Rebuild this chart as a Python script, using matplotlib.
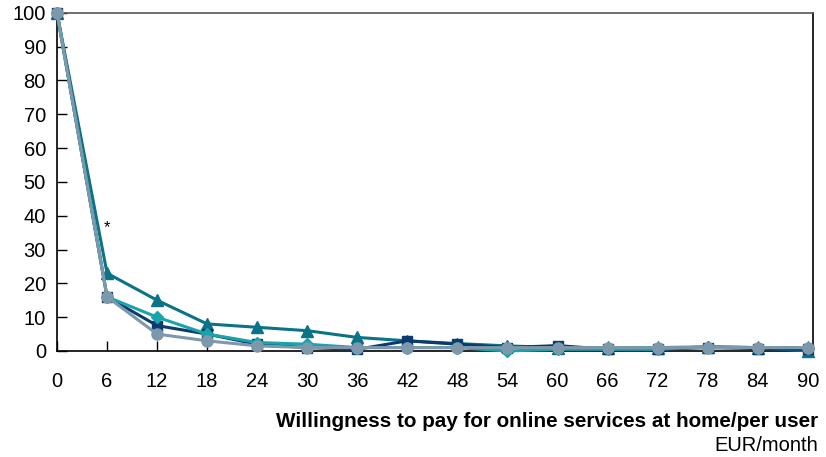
import matplotlib.pyplot as plt

plt.rcParams['font.family'] = ['Liberation Sans', 'DejaVu Sans']

# Data
eur = [0, 6, 12, 18, 24, 30, 36, 42, 48, 54, 60, 66, 72, 78, 84, 90]
tri = [100, 23, 15, 8, 7, 6, 4, 3, 2.2, 1.5, 1, 1, 1, 1.2, 1, 0]
sq = [100, 16, 7.5, 5, 2, 1, 0.5, 3, 2, 1, 1.6, 0.5, 0.5, 1, 0.7, 0.5]
dia = [100, 16, 10, 5, 2.5, 2, 1, 1, 1, 0, 0.5, 0.5, 0.5, 1.3, 1, 1]
circ = [100, 16, 5, 3, 1.5, 1, 1, 1, 1, 1, 1, 1, 1, 1, 1, 1]
yticks = list(range(0, 101, 10))

fig = plt.figure(figsize=(8.26, 4.57), dpi=100)
ax = fig.add_axes([0.069, 0.232, 0.915, 0.740])

ax.plot(eur, tri, color="#0a7388", marker="^", markersize=8, linewidth=2.2, clip_on=False, zorder=3)
ax.plot(eur, sq, color="#0d3a6e", marker="s", markersize=7, linewidth=2.2, clip_on=False, zorder=4)
ax.plot(eur, dia, color="#1aa3aa", marker="D", markersize=6, linewidth=2.2, clip_on=False, zorder=5)
ax.plot(eur, circ, color="#7d98ab", marker="o", markersize=8, linewidth=2.2, clip_on=False, zorder=6)

ax.text(6, 36.5, "*", fontsize=12, ha="center", va="center")

ax.set_xlim(0, 90.6)
ax.set_ylim(0, 100)
ax.set_xticks(eur)
ax.set_yticks(yticks)
ax.tick_params(axis="both", direction="in", labelsize=14.5, length=7, width=1)
ax.tick_params(axis="x", pad=15)
ax.tick_params(axis="y", pad=8)
for s in ax.spines.values():
    s.set_linewidth(1.2)
    s.set_color("black")
ax.spines["top"].set_color("#555555")

# axis title in two lines, right aligned under the axes
fig.text(0.990, 0.077, "Willingness to pay for online services at home/per user",
         ha="right", va="center", fontsize=14.9, fontweight="bold")
fig.text(0.990, 0.026, "EUR/month", ha="right", va="center", fontsize=14.5)

fig.savefig("out.png", dpi=100)
